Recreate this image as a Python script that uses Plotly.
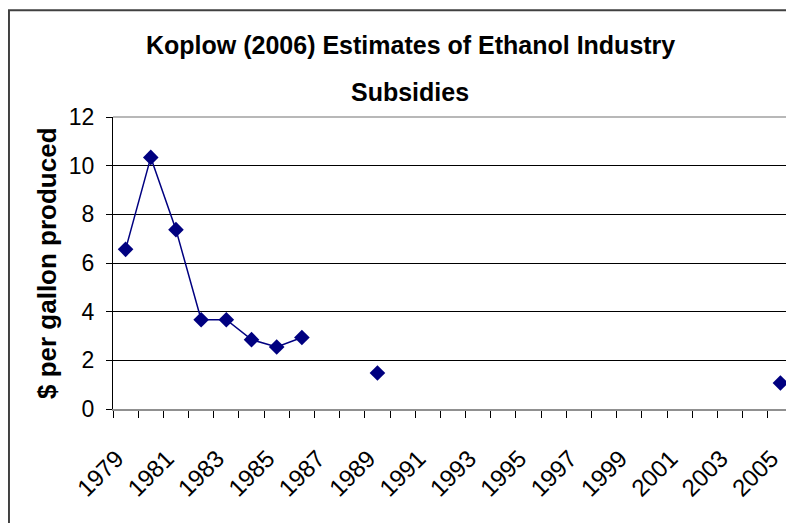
import plotly.graph_objects as go

years = [str(y) for y in range(1979, 2006)]
subsidy = [6.56, 10.34, 7.37, 3.67, 3.67, 2.85, 2.55, 2.94,
           None, None, 1.48, None, None, None, None, None, None,
           None, None, None, None, None, None, None, None, None, 1.07]
tick_text = [y if (int(y) - 1979) % 2 == 0 else "" for y in years]

title_lines = ["Koplow (2006) Estimates of Ethanol Industry", "Subsidies"]
y_title = "$ per gallon produced"

navy = "#000080"
font = "Liberation Sans, Arial, sans-serif"

fig = go.Figure()

fig.add_trace(
    go.Scatter(
        x=years,
        y=subsidy,
        mode="lines+markers",
        connectgaps=False,
        line=dict(color=navy, width=1.5),
        marker=dict(symbol="diamond", size=12, color=navy),
        showlegend=False
    )
)

# the page body adds ~8px offset, so margins are shifted to compensate
fig.update_layout(
    width=794,
    height=523,
    paper_bgcolor="white",
    plot_bgcolor="white",
    margin=dict(l=105, r=9, t=109, b=122),
    font=dict(family=font, color="black"),
    annotations=[
        dict(text="<b>" + title_lines[0] + "</b>", xref="paper", yref="paper",
             x=0.4368, y=1.2466, xanchor="center", yanchor="middle",
             showarrow=False, font=dict(size=25)),
        dict(text="<b>" + title_lines[1] + "</b>", xref="paper", yref="paper",
             x=0.4368, y=1.0856, xanchor="center", yanchor="middle",
             showarrow=False, font=dict(size=25)),
        dict(text="<b>" + y_title + "</b>", xref="paper", yref="paper",
             x=-0.097, y=0.5, xanchor="center", yanchor="middle",
             textangle=-90, showarrow=False, font=dict(size=26))
    ],
    shapes=[
        dict(type="rect", xref="paper", yref="paper",
             x0=-0.153, x1=1.2, y0=-0.6, y1=1.366,
             line=dict(color="#404040", width=2), layer="below"),
        dict(type="line", xref="paper", yref="paper",
             x0=1, x1=1, y0=0, y1=1,
             line=dict(color="#a0a0a0", width=1.5)),
        dict(type="line", xref="paper", yref="paper",
             x0=0, x1=1, y0=1, y1=1,
             line=dict(color="#a0a0a0", width=1.5))
    ]
)

fig.update_xaxes(
    type="category",
    categoryorder="array",
    categoryarray=years,
    tickvals=years,
    ticktext=tick_text,
    tickson="boundaries",
    ticks="outside",
    ticklen=7,
    tickcolor="black",
    tickangle=-45,
    ticklabelstandoff=24,
    ticklabelshift=-9,
    tickfont=dict(size=24),
    showline=True,
    linecolor="#909090",
    linewidth=2,
    showgrid=False,
    zeroline=False,
    automargin=False,
    range=[-0.5, 26.5]
)

fig.update_yaxes(
    range=[0, 12],
    dtick=2,
    ticks="outside",
    ticklen=6,
    tickcolor="black",
    ticklabelstandoff=7,
    tickfont=dict(size=23),
    showline=True,
    linecolor="black",
    linewidth=1,
    showgrid=True,
    gridcolor="black",
    gridwidth=1,
    zeroline=False,
    automargin=False
)

fig.write_html("out.html")
